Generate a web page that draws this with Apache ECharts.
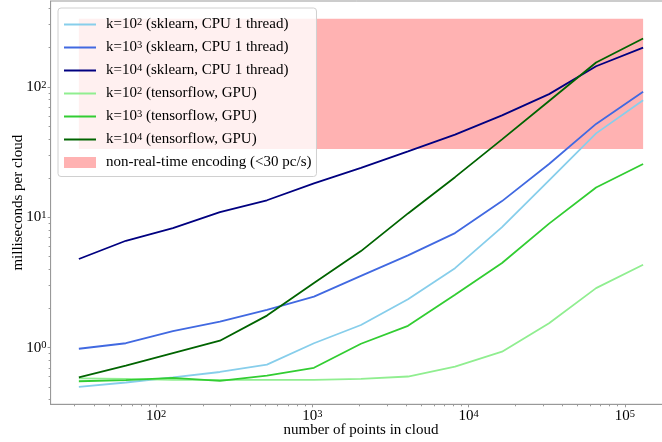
<!DOCTYPE html>
<html>
<head>
<meta charset="utf-8">
<script src="https://cdn.jsdelivr.net/npm/echarts@6/dist/echarts.min.js"></script>
<style>html,body{margin:0;padding:0;background:#fff}#c{width:662px;height:442px}</style>
</head>
<body>
<div id="c"></div>
<script>
// number of points in cloud
const pointCounts = [32, 64, 128, 256, 512, 1024, 2048, 4096, 8192, 16384, 32768, 65536, 131072];
// milliseconds per cloud
const sklearnK2 = [0.50, 0.54, 0.59, 0.65, 0.74, 1.08, 1.49, 2.35, 4.07, 8.4, 19.2, 44, 79];
const sklearnK3 = [0.98, 1.08, 1.34, 1.58, 1.95, 2.46, 3.55, 5.1, 7.56, 13.3, 25.6, 52, 91.6];
const sklearnK4 = [4.78, 6.6, 8.26, 10.96, 13.5, 18.2, 23.9, 32.0, 43.0, 60.5, 88, 144, 200];
const tfK2 = [0.58, 0.575, 0.565, 0.565, 0.565, 0.565, 0.575, 0.60, 0.715, 0.93, 1.54, 2.86, 4.32];
const tfK3 = [0.552, 0.562, 0.585, 0.555, 0.61, 0.70, 1.07, 1.47, 2.54, 4.46, 8.93, 16.9, 25.6];
const tfK4 = [0.59, 0.727, 0.906, 1.13, 1.76, 3.13, 5.5, 10.7, 20.3, 39.6, 78, 154, 235];
// non-real-time band: slower than 30 pc/s (up to 3 pc/s)
const bandFps = [30, 3];
const seriesNames = [
  'k=10^2 (sklearn, CPU 1 thread)',
  'k=10^3 (sklearn, CPU 1 thread)',
  'k=10^4 (sklearn, CPU 1 thread)',
  'k=10^2 (tensorflow, GPU)',
  'k=10^3 (tensorflow, GPU)',
  'k=10^4 (tensorflow, GPU)'
];
const bandName = 'non-real-time encoding (<30 pc/s)';
const xMajorExp = [2, 3, 4, 5];
const yMajorExp = [0, 1, 2];
const colors = ['#87CEEB', '#4169E1', '#000080', '#90EE90', '#32CD32', '#006400'];

const L = Math.log10;
const xMin = 1.3243, xMax = 5.298;
const yMin = -0.435, yMax = 2.659;
function minors(lo, hi) {
  const out = [];
  for (let e = Math.floor(lo) - 1; e <= Math.ceil(hi); e++) {
    for (let m = 2; m <= 9; m++) {
      const v = e + L(m);
      if (v >= lo && v <= hi) out.push(v);
    }
  }
  return out;
}
const FONT = 'Liberation Serif';
const FS = 15;
const GRAY = '#999999';
const richSup = {
  b: {fontFamily: FONT, fontSize: FS, color: '#000', lineHeight: 15, verticalAlign: 'bottom'},
  s: {fontFamily: FONT, fontSize: 10.5, color: '#000', lineHeight: 9, verticalAlign: 'top'}
};
const supFmt = v => '{b|10}{s|' + Math.round(v) + '}';

const allData = [sklearnK2, sklearnK3, sklearnK4, tfK2, tfK3, tfK4];
const series = allData.map((arr, i) => ({
  name: seriesNames[i],
  type: 'line',
  xAxisIndex: 0, yAxisIndex: 0,
  symbol: 'none',
  color: colors[i],
  lineStyle: {width: 1.8, color: colors[i]},
  z: 3,
  data: arr.map((v, j) => [L(pointCounts[j]), L(v)])
}));
series.push({
  name: bandName,
  type: 'line',
  xAxisIndex: 0, yAxisIndex: 0,
  symbol: 'none',
  color: 'rgba(255,0,0,0.3)',
  data: [],
  z: 1,
  markArea: {
    silent: true,
    itemStyle: {color: 'rgba(255,0,0,0.3)'},
    data: [[
      {coord: [L(pointCounts[0]), L(1000 / bandFps[0])]},
      {coord: [L(pointCounts[pointCounts.length - 1]), L(1000 / bandFps[1])]}
    ]]
  }
});

const legendRich = {
  n: {fontFamily: FONT, fontSize: FS, color: '#000', lineHeight: 15, verticalAlign: 'bottom'},
  s: {fontFamily: FONT, fontSize: 10.5, color: '#000', lineHeight: 9, verticalAlign: 'top'}
};

const option = {
  animation: false,
  backgroundColor: '#fff',
  grid: {left: 50.6, top: 1, right: -9.3, bottom: 37.7, show: true, borderColor: GRAY, borderWidth: 1, containLabel: false, outerBoundsMode: 'none'},
  legend: {
    left: 58, top: 8,
    orient: 'vertical',
    padding: [9, 5, 6.5, 5],
    itemWidth: 32, itemHeight: 11, itemGap: 8.0,
    backgroundColor: 'rgba(255,255,255,0.8)',
    borderColor: '#d0d0d0', borderWidth: 1, borderRadius: 3,
    itemStyle: {opacity: 0},
    data: seriesNames.map(n => ({name: n})).concat([{name: bandName, icon: 'rect', itemStyle: {color: 'rgba(255,0,0,0.3)', opacity: 1}}]),
    formatter: function (name) {
      const m = name.match(/^(.*?)\^(\d)(.*)$/);
      if (!m) return '{n|' + name + '}';
      return '{n|' + m[1] + '}{s|' + m[2] + '}{n|' + m[3] + '}';
    },
    textStyle: {fontFamily: FONT, fontSize: FS, color: '#000', padding: [0, 0, 0, 5], rich: legendRich}
  },
  xAxis: [{
    type: 'value', min: xMin, max: xMax, position: 'bottom',
    axisLine: {show: true, onZero: false, lineStyle: {color: GRAY, width: 1}},
    axisTick: {show: true, length: 3, inside: false, customValues: xMajorExp, lineStyle: {color: GRAY}},
    axisLabel: {show: true, customValues: xMajorExp, formatter: supFmt, margin: 4, rich: richSup, showMinLabel: true, showMaxLabel: true},
    splitLine: {show: false},
    name: 'number of points in cloud', nameLocation: 'middle', nameGap: 18, nameMoveOverlap: false,
    nameTextStyle: {fontFamily: FONT, fontSize: FS, color: '#000'}
  }, {
    type: 'value', min: xMin, max: xMax, position: 'bottom',
    axisLine: {show: false, onZero: false},
    axisTick: {show: true, length: 2, inside: false, customValues: minors(xMin, xMax), lineStyle: {color: GRAY}},
    axisLabel: {show: false},
    splitLine: {show: false}
  }],
  yAxis: [{
    type: 'value', min: yMin, max: yMax, position: 'left',
    axisLine: {show: true, onZero: false, lineStyle: {color: GRAY, width: 1}},
    axisTick: {show: true, length: 3, inside: false, customValues: yMajorExp, lineStyle: {color: GRAY}},
    axisLabel: {show: true, customValues: yMajorExp, formatter: supFmt, margin: 4, rich: richSup},
    splitLine: {show: false},
    name: 'milliseconds per cloud', nameLocation: 'middle', nameGap: 25, nameMoveOverlap: false,
    nameTextStyle: {fontFamily: FONT, fontSize: FS, color: '#000'}
  }, {
    type: 'value', min: yMin, max: yMax, position: 'left',
    axisLine: {show: false, onZero: false},
    axisTick: {show: true, length: 2, inside: false, customValues: minors(yMin, yMax), lineStyle: {color: GRAY}},
    axisLabel: {show: false},
    splitLine: {show: false}
  }],
  series: series
};
const chart = echarts.init(document.getElementById('c'), null, {renderer: 'canvas'});
chart.setOption(option);
</script>
</body>
</html>
